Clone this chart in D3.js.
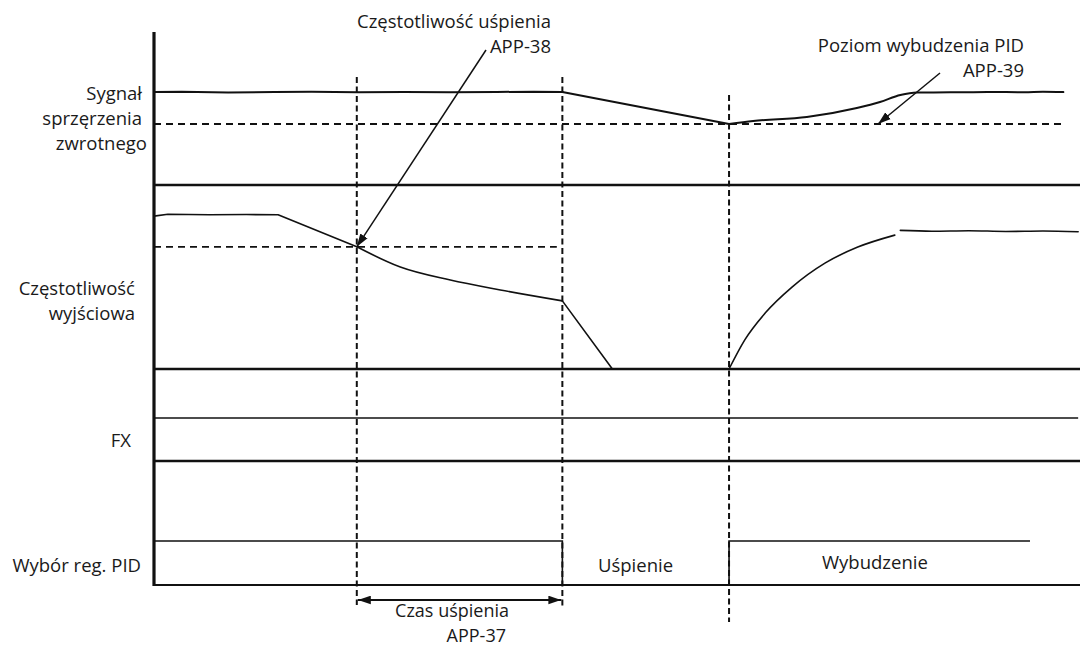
<!DOCTYPE html>
<html>
<head>
<meta charset="utf-8">
<script src="https://cdn.jsdelivr.net/npm/d3@7"></script>
<style>
  html, body { margin: 0; padding: 0; background: #fff; }
  svg { display: block; font-family: "Open Sans", "Noto Sans", sans-serif; }
  text { fill: #1a1a1a; font-size: 18.5px; }
  text.small { font-size: 18px; }
</style>
</head>
<body>
<svg id="chart" width="1080" height="647"></svg>
<script>
// ---- timing data (time in arbitrary units 0..100) ----
const markerTimes = [21.9, 44.1, 62.1];          // sleep-freq reached, sleep, wake-up
const sleepFreq = 47;                             // APP-38 [Hz]
const wakeLevel = 49.2;                           // APP-39 [%]

// feedback signal [%]
const feedbackSignal = [
  [0, 75.0], [3, 75.3], [8, 74.6], [13, 74.9], [17, 75.2], [22, 74.8], [27, 75.1],
  [32, 74.7], [37, 75.0], [41, 75.3], [44.1, 75.0], [62.1, 49.2], [64.7, 51.6],
  [70.5, 54.8], [75.9, 62.1], [78.4, 66.9], [80.6, 72.6], [82.4, 74.6], [86, 74.7],
  [90, 75.1], [94, 74.8], [96, 75.2], [98.2, 74.9]
];

// output frequency [Hz]
const freqRun = [
  [0, 58.8], [1.5, 59.5], [6, 59.3], [10, 59.4], [13.4, 59.3],
  [21.9, 47.0], [26.6, 39.2], [32.0, 34.2], [37.4, 30.4], [44.1, 26.2]
];
const freqStop = [[44.1, 26.2], [49.5, 0]];
const freqWake = [
  [62.1, 0], [63.8, 11.2], [66.0, 21.5], [68.9, 31.5], [72.5, 40.8], [76.0, 46.9], [80.0, 51.5]
];
const freqSteady = [
  [80.6, 53.3], [84, 53.0], [88, 53.2], [92, 52.9], [96, 53.1], [99.8, 52.8]
];

// digital signals (1 = on)
const fxSignal = [[0, 1], [99.8, 1]];
const pidSignal = [[0, 1], [44.1, 1], [44.1, 0], [62.1, 0], [62.1, 1], [94.6, 1]];

// texts
const rowLabels = [
  ["Sygnał", "sprzęrzenia", "zwrotnego"],
  ["Częstotliwość", "wyjściowa"],
  ["FX"],
  ["Wybór reg. PID"]
];
const sleepFreqNote = ["Częstotliwość uśpienia", "APP-38"];
const wakeLevelNote = ["Poziom wybudzenia PID", "APP-39"];
const sleepTimeNote = ["Czas uśpienia", "APP-37"];
const stateLabels = ["Uśpienie", "Wybudzenie"];

// ---- drawing ----
const svg = d3.select("#chart");
const x = d3.scaleLinear().domain([0, 100]).range([154, 1080]);
const yFb = d3.scaleLinear().domain([0, 100]).range([185, 61]);
const yFreq = d3.scaleLinear().domain([0, 60]).range([369, 213]);
const yFx = d3.scaleLinear().domain([0, 1]).range([461, 418]);
const yPid = d3.scaleLinear().domain([0, 1]).range([585, 541]);

const defs = svg.append("defs");
defs.append("marker")
  .attr("id", "head")
  .attr("viewBox", "0 0 12 8")
  .attr("refX", 12).attr("refY", 4)
  .attr("markerWidth", 13).attr("markerHeight", 9)
  .attr("markerUnits", "userSpaceOnUse")
  .attr("orient", "auto-start-reverse")
  .append("path").attr("d", "M0,0 L12,4 L0,8 Z").attr("fill", "#111");

const ink = "#111";

// row separators
const separators = [
  { y: yFb(0), w: 2.6 },
  { y: yFreq(0), w: 2.6 },
  { y: yFx(0), w: 2.6 },
  { y: yPid(0), w: 1.8 }
];
svg.append("g").selectAll("line").data(separators).join("line")
  .attr("x1", x(0)).attr("x2", 1080)
  .attr("y1", d => d.y).attr("y2", d => d.y)
  .attr("stroke", ink).attr("stroke-width", d => d.w);

// vertical axis
svg.append("line")
  .attr("x1", x(0)).attr("x2", x(0)).attr("y1", 32).attr("y2", yPid(0) + 1)
  .attr("stroke", ink).attr("stroke-width", 3.2);

// reference dashed levels
svg.append("line")
  .attr("x1", x(0)).attr("x2", x(98.2))
  .attr("y1", yFb(wakeLevel)).attr("y2", yFb(wakeLevel))
  .attr("stroke", ink).attr("stroke-width", 1.8).attr("stroke-dasharray", "7,5");
svg.append("line")
  .attr("x1", x(0)).attr("x2", x(43.5))
  .attr("y1", yFreq(sleepFreq)).attr("y2", yFreq(sleepFreq))
  .attr("stroke", ink).attr("stroke-width", 1.8).attr("stroke-dasharray", "7,5");

// vertical event markers
const markerSpans = [[77, 605], [77, 608], [95, 622]];
svg.append("g").selectAll("line").data(markerTimes).join("line")
  .attr("x1", d => x(d)).attr("x2", d => x(d))
  .attr("y1", (d, i) => markerSpans[i][0]).attr("y2", (d, i) => markerSpans[i][1])
  .attr("stroke", ink).attr("stroke-width", 2).attr("stroke-dasharray", "6,3.5");

// line generators
const lineFbSmooth = d3.line().x(d => x(d[0])).y(d => yFb(d[1])).curve(d3.curveMonotoneX);
const lineFbStraight = d3.line().x(d => x(d[0])).y(d => yFb(d[1]));
const lineFreq = d3.line().x(d => x(d[0])).y(d => yFreq(d[1])).curve(d3.curveMonotoneX);
const lineFreqStraight = d3.line().x(d => x(d[0])).y(d => yFreq(d[1]));

function drawPath(gen, seg, width) {
  svg.append("path").attr("d", gen(seg))
    .attr("fill", "none").attr("stroke", ink).attr("stroke-width", width)
    .attr("stroke-linejoin", "round").attr("stroke-linecap", "round");
}

// feedback: steady, linear fall while asleep, smooth recovery after wake-up
const tSleep = markerTimes[1], tWake = markerTimes[2];
drawPath(lineFbStraight, feedbackSignal.filter(d => d[0] <= tSleep), 2);
drawPath(lineFbStraight, feedbackSignal.filter(d => d[0] >= tSleep && d[0] <= tWake), 2);
drawPath(lineFbSmooth, feedbackSignal.filter(d => d[0] >= tWake), 2);

// output frequency: steady, linear deceleration, tapering, stop ramp, restart
drawPath(lineFreqStraight, freqRun.filter(d => d[0] <= markerTimes[0]), 1.6);
drawPath(lineFreq, freqRun.filter(d => d[0] >= markerTimes[0]), 1.6);
drawPath(lineFreqStraight, freqStop, 1.6);
drawPath(lineFreq, freqWake, 1.6);
drawPath(lineFreq, freqSteady, 1.6);

// digital signals
const lineFx = d3.line().x(d => x(d[0])).y(d => yFx(d[1]));
const linePid = d3.line().x(d => x(d[0])).y(d => yPid(d[1]));
svg.append("path").attr("d", lineFx(fxSignal))
  .attr("fill", "none").attr("stroke", ink).attr("stroke-width", 1.5);
svg.append("path").attr("d", linePid(pidSignal))
  .attr("fill", "none").attr("stroke", ink).attr("stroke-width", 1.6);

// callout arrows
svg.append("line")
  .attr("x1", 486).attr("y1", 50)
  .attr("x2", x(markerTimes[0])).attr("y2", yFreq(sleepFreq))
  .attr("stroke", ink).attr("stroke-width", 1.5).attr("marker-end", "url(#head)");
svg.append("line")
  .attr("x1", 940).attr("y1", 73)
  .attr("x2", 878).attr("y2", yFb(wakeLevel))
  .attr("stroke", ink).attr("stroke-width", 1.5).attr("marker-end", "url(#head)");

// sleep-time span arrow
svg.append("line")
  .attr("x1", x(markerTimes[0]) + 1).attr("x2", x(markerTimes[1]) - 1)
  .attr("y1", 600).attr("y2", 600)
  .attr("stroke", ink).attr("stroke-width", 2.2)
  .attr("marker-start", "url(#head)").attr("marker-end", "url(#head)");

// row labels
const labelLayout = [
  { lines: rowLabels[0], xs: [142, 142, 147], ys: [100, 125, 150] },
  { lines: rowLabels[1], xs: [135, 135], ys: [295, 320] },
  { lines: rowLabels[2], xs: [131], ys: [447] },
  { lines: rowLabels[3], xs: [141], ys: [572] }
];
labelLayout.forEach(l => {
  l.lines.forEach((t, i) => {
    svg.append("text").attr("x", l.xs[i]).attr("y", l.ys[i])
      .attr("text-anchor", "end").text(t);
  });
});

// notes
function note(lines, xEnds, ys, cls) {
  lines.forEach((t, i) => {
    svg.append("text").attr("class", cls || null)
      .attr("x", xEnds[i]).attr("y", ys[i]).attr("text-anchor", "end").text(t);
  });
}
note(sleepFreqNote, [551, 551], [28, 53]);
note(wakeLevelNote, [1024, 1024], [52, 77]);
note(sleepTimeNote, [509, 506], [617, 641.5], "small");

svg.append("text").attr("x", 598).attr("y", 572).text(stateLabels[0]);
svg.append("text").attr("x", 822).attr("y", 569).text(stateLabels[1]);
</script>
</body>
</html>
